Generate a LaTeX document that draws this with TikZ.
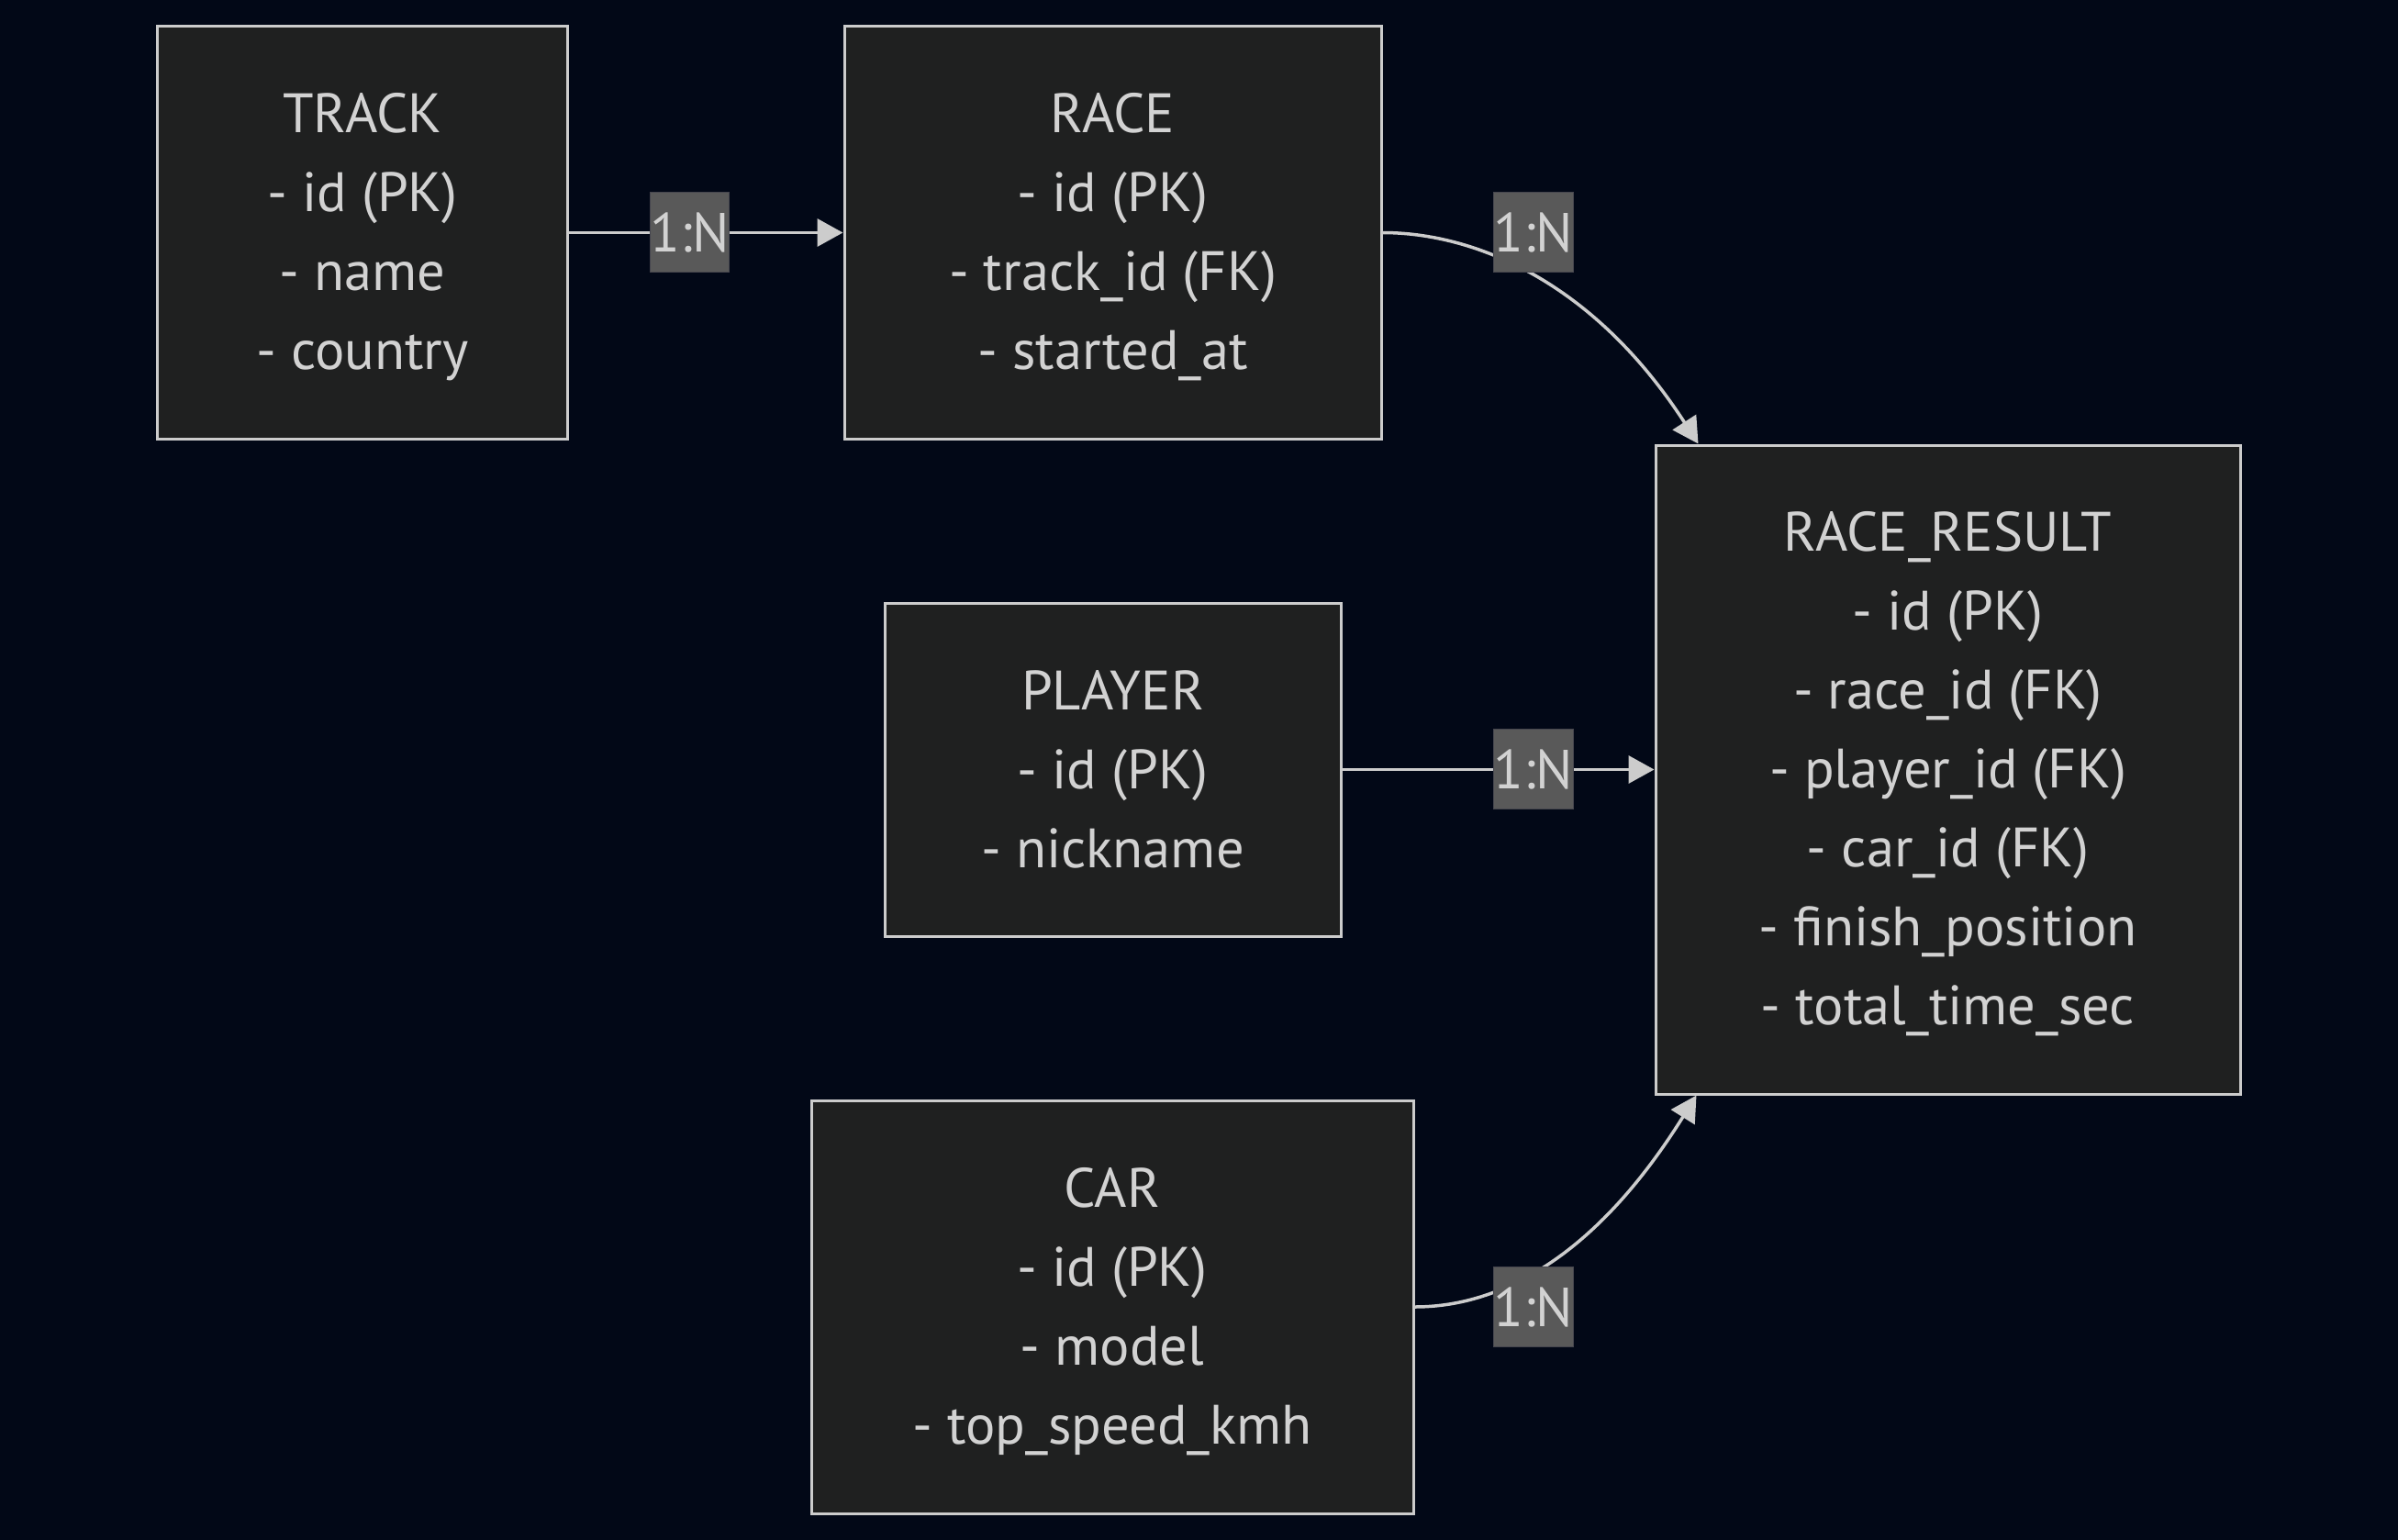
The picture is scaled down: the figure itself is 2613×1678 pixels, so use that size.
\documentclass[tikz,border=0pt]{standalone}
\usepackage{fontspec}
\setmainfont{PT Sans}
\usetikzlibrary{arrows.meta,calc}
\definecolor{bgc}{RGB}{2,8,23}
\definecolor{boxfill}{RGB}{31,32,32}
\definecolor{boxline}{RGB}{204,204,204}
\definecolor{txt}{RGB}{210,210,210}
\definecolor{lblfill}{RGB}{89,89,89}
\definecolor{lblline}{RGB}{70,70,78}
\tikzset{
  entity/.style={draw=boxline, fill=boxfill, line width=3pt, inner sep=0pt},
  etext/.style={align=center, text=txt, inner sep=0pt, font={\fontsize{60.5pt}{86pt}\selectfont}},
  rel/.style={draw=boxline, line width=3.5pt, -{Triangle[length=28pt,width=30pt]}},
  card/.style={fill=lblfill, draw=lblline, line width=1pt, text=txt, inner sep=0pt,
    minimum width=86pt, minimum height=87pt, font={\fontsize{60pt}{60pt}\selectfont}}
}
\begin{document}
\begin{tikzpicture}[x=1pt,y=-1pt]
\fill[bgc] (0,0) rectangle (2613,1678);
\useasboundingbox (0,0) rectangle (2613,1678);

\node[entity, minimum width=447pt, minimum height=450pt] (track) at (395,253.5) {};
\node[etext] (trackt) at ($(track.center)+(0,5)$) {TRACK\\- id (PK)\\- name\\- country};
\node[entity, minimum width=585pt, minimum height=450pt] (race) at (1212.5,253.5) {};
\node[etext] (racet) at ($(race.center)+(0,5)$) {RACE\\- id (PK)\\- track\_id (FK)\\- started\_at};
\node[entity, minimum width=637pt, minimum height=707pt] (result) at (2122.5,838.5) {};
\node[etext] (resultt) at ($(result.center)+(0,5)$) {RACE\_RESULT\\- id (PK)\\- race\_id (FK)\\- player\_id (FK)\\- car\_id (FK)\\- finish\_position\\- total\_time\_sec};
\node[entity, minimum width=497pt, minimum height=363pt] (player) at (1212.5,838.5) {};
\node[etext] (playert) at ($(player.center)+(0,0)$) {PLAYER\\- id (PK)\\- nickname};
\node[entity, minimum width=656pt, minimum height=450pt] (car) at (1212,1424) {};
\node[etext] (cart) at ($(car.center)+(0,5)$) {CAR\\- id (PK)\\- model\\- top\_speed\_kmh};

\draw[rel] (track.east) -- (race.west);
\draw[rel] (race.east) .. controls (1605,253.5) and (1735,305) .. ($(result.north west)+(48,0)$);
\draw[rel] (player.east) -- (result.west);
\draw[rel] (car.east) .. controls (1630,1424) and (1735,1375) .. ($(result.south west)+(46,0)$);

\node[card] (c1) at (751.5,253) {1:N};
\node[card] (c2) at (1671,253) {1:N};
\node[card] (c3) at (1671,838) {1:N};
\node[card] (c4) at (1671,1424) {1:N};
\end{tikzpicture}
\end{document}
